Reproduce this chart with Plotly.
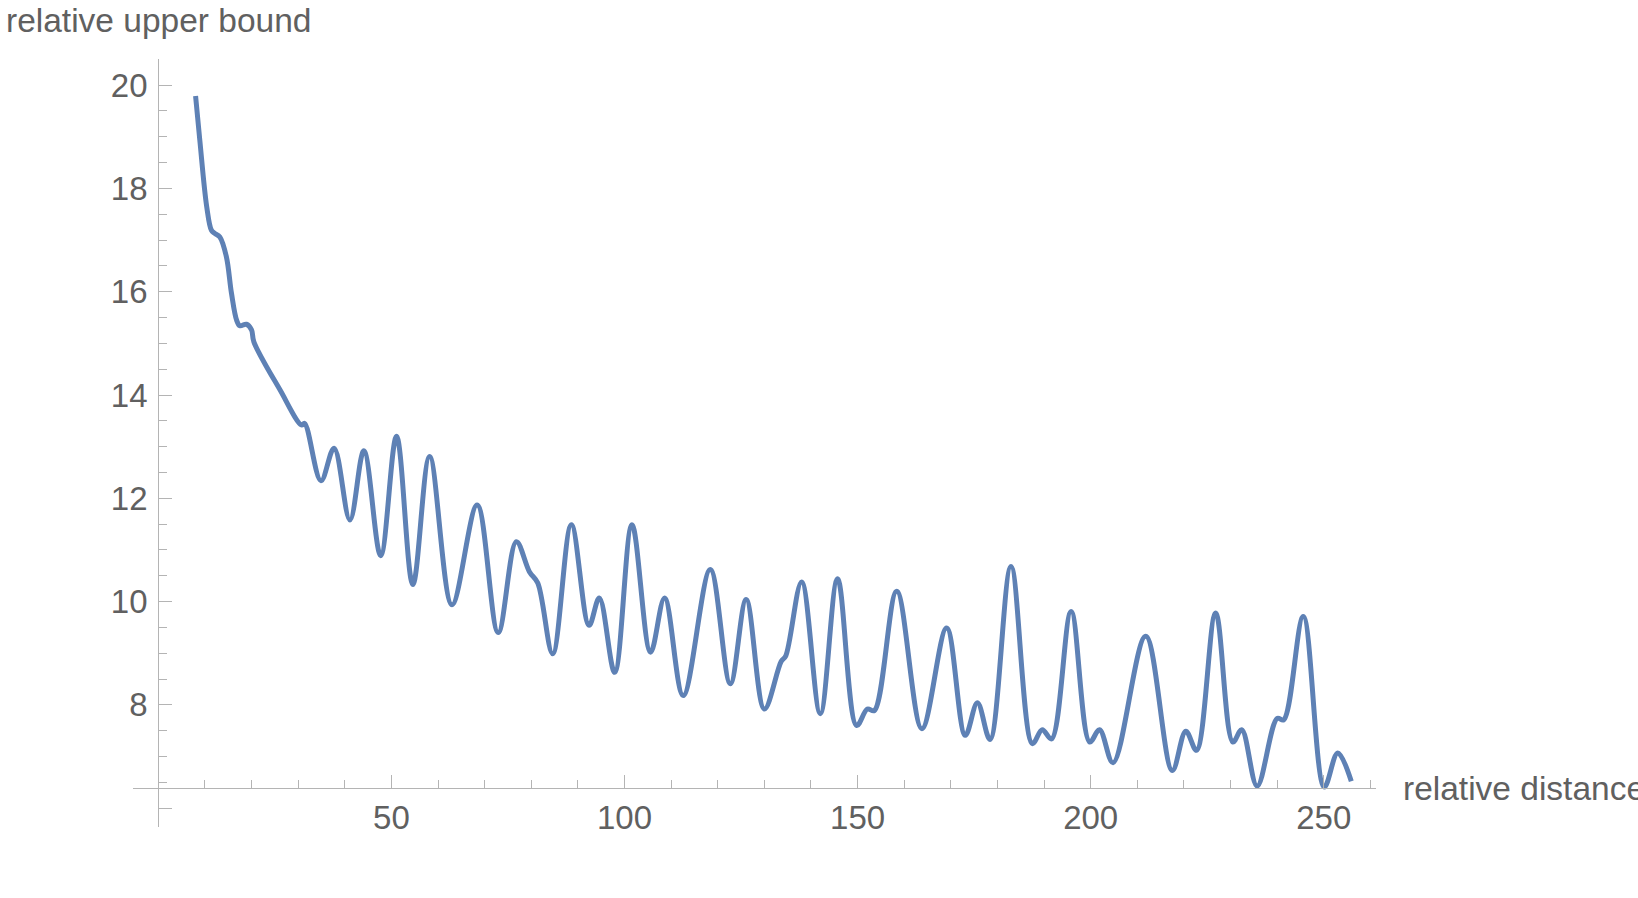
import plotly.graph_objects as go

# ---- data ----
distance = [8.0, 8.9, 10.4, 11.4, 12.1, 13.2, 14.6, 15.7, 16.8, 17.5, 18.9, 20.0, 20.5,
            26.1, 30.7, 31.4, 34.9, 37.7, 41.1, 44.1, 47.7, 51.1, 54.6, 58.2, 63.0,
            68.4, 72.9, 76.8, 79.6, 81.4, 84.6, 88.6, 92.4, 94.6, 97.9, 101.6, 105.6,
            108.6, 112.6, 118.4, 122.7, 126.1, 130.0, 133.6, 134.6, 138.0, 142.0, 145.7,
            149.8, 152.1, 153.6, 158.4, 163.8, 169.1, 173.1, 175.7, 178.4, 182.9, 187.5,
            189.6, 191.6, 195.8, 199.8, 201.9, 204.8, 211.8, 217.5, 220.4, 222.7, 226.8,
            230.5, 232.4, 235.7, 240.0, 241.4, 245.6, 250.1, 253.0, 255.9]
upper_bound = [19.79, 18.94, 17.64, 17.19, 17.13, 17.06, 16.68, 15.97, 15.45, 15.34, 15.37, 15.26, 15.03,
               14.10, 13.42, 13.45, 12.34, 12.97, 11.58, 12.92, 10.89, 13.20, 10.33, 12.81, 9.94,
               11.87, 9.40, 11.16, 10.58, 10.36, 8.99, 11.49, 9.54, 10.07, 8.63, 11.49, 9.02,
               10.07, 8.18, 10.62, 8.41, 10.04, 7.92, 8.84, 8.95, 10.38, 7.83, 10.44,
               7.60, 7.92, 7.89, 10.20, 7.54, 9.49, 7.41, 8.04, 7.33, 10.68, 7.25,
               7.52, 7.34, 9.81, 7.28, 7.52, 6.88, 9.33, 6.73, 7.49, 7.12, 9.78,
               7.28, 7.52, 6.43, 7.74, 7.71, 9.71, 6.41, 7.07, 6.52]

x_major = [50, 100, 150, 200, 250]
y_major = [6, 8, 10, 12, 14, 16, 18, 20]
y_labels = ["", "8", "10", "12", "14", "16", "18", "20"]

# axis extents (Mathematica style crossing axes)
x_range = [-5.36, 261.2]
y_range = [5.63, 20.5]
x_axis_at = 6.39   # y value where the horizontal axis sits
y_axis_at = 0      # x value where the vertical axis sits

W, H = 1638, 898
# pixel boxes of the two axis lines
x_dom = [133.3 / W, 1376 / W]
y_dom = [1 - 827.3 / H, 1 - 59.3 / H]

x_pos = x_dom[0] + (y_axis_at - x_range[0]) / (x_range[1] - x_range[0]) * (x_dom[1] - x_dom[0])
y_pos = y_dom[0] + (x_axis_at - y_range[0]) / (y_range[1] - y_range[0]) * (y_dom[1] - y_dom[0])

axis_col = "#b4b4b4"
text_col = "#606060"
font = "Liberation Sans, Arial, sans-serif"

fig = go.Figure(go.Scatter(
    x=distance, y=upper_bound, mode="lines",
    line=dict(color="#5e81b5", width=5, shape="spline", smoothing=1.0),
    hoverinfo="skip"))

fig.update_layout(
    width=W, height=H,
    margin=dict(l=0, r=0, t=0, b=0),
    paper_bgcolor="white", plot_bgcolor="white",
    showlegend=False,
    xaxis=dict(domain=x_dom, range=x_range, anchor="free", position=y_pos,
               showgrid=False, zeroline=False, showline=True, linecolor=axis_col, linewidth=1.3,
               tickmode="array", tickvals=x_major, ticks="inside", ticklen=13,
               tickcolor=axis_col, tickwidth=1.3,
               minor=dict(dtick=10, tick0=0, ticks="inside", ticklen=7.5,
                          tickcolor=axis_col, tickwidth=1.3, showgrid=False),
               tickfont=dict(family=font, size=33, color=text_col)),
    yaxis=dict(domain=y_dom, range=y_range, anchor="free", position=x_pos,
               showgrid=False, zeroline=False, showline=True, linecolor=axis_col, linewidth=1.3,
               tickmode="array", tickvals=y_major, ticktext=y_labels, ticks="inside", ticklen=13,
               tickcolor=axis_col, tickwidth=1.3, ticklabelstandoff=4,
               minor=dict(dtick=0.5, tick0=0, ticks="inside", ticklen=7.5,
                          tickcolor=axis_col, tickwidth=1.3, showgrid=False),
               tickfont=dict(family=font, size=33, color=text_col)),
    annotations=[
        dict(text="relative distance", xref="paper", yref="paper",
             x=1401 / W, y=1 - 788 / H, xanchor="left", yanchor="middle", showarrow=False,
             font=dict(family=font, size=33.5, color=text_col)),
        dict(text="relative upper bound", xref="paper", yref="paper",
             x=4 / W, y=1, xanchor="left", yanchor="top", showarrow=False,
             font=dict(family=font, size=33.5, color=text_col)),
    ],
)

# drop the browser's default 8px page margin so the figure sits at the window corner
fig.write_html("out.html", config={"displayModeBar": False},
               post_script="document.body.style.margin='0px';")
